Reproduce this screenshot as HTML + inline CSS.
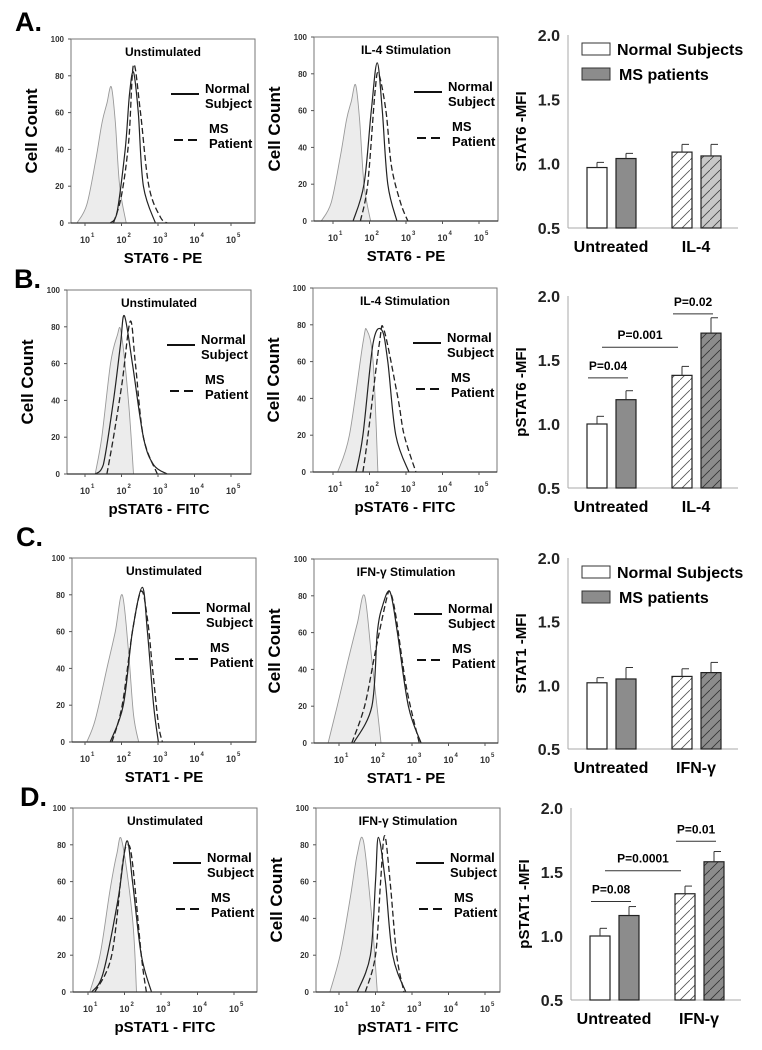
<!DOCTYPE html>
<html><head><meta charset="utf-8">
<style>
html,body{margin:0;padding:0;background:#fff;}
svg{display:block;font-family:"Liberation Sans",Arial,sans-serif;}
</style></head>
<body>
<svg id="fig" width="762" height="1050" viewBox="0 0 762 1050" xmlns="http://www.w3.org/2000/svg">
<defs>
<pattern id="hatchW" patternUnits="userSpaceOnUse" width="10" height="10">
<rect width="10" height="10" fill="#fff"/><path d="M-2,12 L12,-2" stroke="#555" stroke-width="0.8"/>
</pattern>
<pattern id="hatchG" patternUnits="userSpaceOnUse" width="10" height="10">
<rect width="10" height="10" fill="#8c8c8c"/><path d="M-2,12 L12,-2" stroke="#333" stroke-width="0.8"/>
</pattern>
<pattern id="hatchL" patternUnits="userSpaceOnUse" width="10" height="10">
<rect width="10" height="10" fill="#c8c8c8"/><path d="M-2,12 L12,-2" stroke="#444" stroke-width="0.8"/>
</pattern>
</defs>
</svg>
<script>
// ---- Histogram data (log10 intensity, cell count) ----
const histA1Grey=[[0.78,0],[1.05,10],[1.3,35],[1.47,55],[1.6,65],[1.72,74],[1.83,55],[1.95,20],[2.13,0]];
const histA1Normal=[[1.69,0],[1.87,5],[2.1,40],[2.22,70],[2.33,82],[2.46,60],[2.6,20],[2.93,0]];
const histA1MS=[[1.78,0],[2.0,15],[2.2,45],[2.33,86],[2.52,60],[2.75,20],[3.07,3],[3.25,0]];
const histA2Grey=[[0.68,0],[0.95,10],[1.2,35],[1.37,55],[1.5,65],[1.62,74],[1.73,55],[1.85,20],[2.03,0]];
const histA2Normal=[[1.55,0],[1.85,20],[2.05,60],[2.21,86],[2.35,60],[2.5,20],[2.75,0]];
const histA2MS=[[1.75,0],[1.95,20],[2.15,70],[2.25,80],[2.45,60],[2.6,30],[2.85,10],[3.05,0]];
const histB1Grey=[[1.28,0],[1.46,20],[1.7,60],[1.88,75],[1.99,77],[2.19,40],[2.33,0]];
const histB1Normal=[[1.28,0],[1.5,5],[1.78,40],[1.97,70],[2.08,86],[2.3,60],[2.6,20],[2.88,5],[3.25,0]];
const histB1MS=[[1.6,0],[1.78,20],[2.02,50],[2.24,83],[2.38,60],[2.6,20],[2.98,0]];
const histB2Grey=[[1.13,0],[1.45,20],[1.82,70],[1.93,77],[2.1,60],[2.23,0]];
const histB2Normal=[[1.63,0],[1.82,20],[2.1,70],[2.34,77],[2.5,60],[2.72,20],[3.08,0]];
const histB2MS=[[1.82,0],[1.96,20],[2.27,70],[2.4,77],[2.78,40],[2.95,20],[3.27,0]];
const histC1Grey=[[1.05,0],[1.28,12],[1.6,40],[1.83,60],[2.02,80],[2.19,50],[2.33,15],[2.47,0]];
const histC1Normal=[[1.69,0],[2.05,20],[2.3,60],[2.57,84],[2.71,60],[2.88,20],[3.01,0]];
const histC1MS=[[1.74,0],[2.02,20],[2.3,60],[2.54,82],[2.71,67],[2.85,40],[3.01,10],[3.12,0]];
const histC2Grey=[[0.7,0],[0.95,20],[1.25,45],[1.5,65],[1.7,80],[1.9,45],[2.15,0]];
const histC2Normal=[[1.4,0],[1.9,20],[2.05,60],[2.2,75],[2.4,82],[2.6,60],[2.9,20],[3.25,0]];
const histC2MS=[[1.35,0],[1.7,20],[2.0,50],[2.3,78],[2.4,82],[2.55,70],[2.85,30],[3.2,0]];
const histD1Grey=[[1.05,0],[1.33,20],[1.6,55],[1.79,75],[1.93,82],[2.22,40],[2.33,0]];
const histD1Normal=[[1.1,0],[1.41,10],[1.82,50],[2.06,82],[2.22,60],[2.46,20],[2.74,0]];
const histD1MS=[[1.19,0],[1.65,20],[1.95,70],[2.09,80],[2.22,70],[2.46,20],[2.6,0]];
const histD2Grey=[[0.75,0],[1.03,20],[1.3,50],[1.5,75],[1.67,82],[1.9,40],[2.05,0]];
const histD2Normal=[[1.5,0],[1.86,20],[2.0,60],[2.08,84],[2.27,60],[2.47,20],[2.83,0]];
const histD2MS=[[1.72,0],[2.0,20],[2.14,60],[2.25,85],[2.4,60],[2.58,20],[2.78,0]];
const yTickLabels=[0,20,40,60,80,100];
const xTickExps=[1,2,3,4,5];

// ---- Bar chart data ----
const barCategories=["Untreated","Stim"];
const barA_normal=[0.97,1.09]; const barA_ms=[1.04,1.06];
const barA_normalErr=[0.04,0.06]; const barA_msErr=[0.04,0.09];
const barB_normal=[1.00,1.38]; const barB_ms=[1.19,1.71];
const barB_normalErr=[0.06,0.07]; const barB_msErr=[0.07,0.12];
const barC_normal=[1.02,1.07]; const barC_ms=[1.05,1.10];
const barC_normalErr=[0.04,0.06]; const barC_msErr=[0.09,0.08];
const barD_normal=[1.00,1.33]; const barD_ms=[1.16,1.58];
const barD_normalErr=[0.06,0.06]; const barD_msErr=[0.07,0.08];
const barYTicks=["0.5","1.0","1.5","2.0"];
const pLabelsB=["P=0.04","P=0.001","P=0.02"]; const pLevelsB=[1.36,1.60,1.86];
const pLabelsD=["P=0.08","P=0.0001","P=0.01"]; const pLevelsD=[1.27,1.51,1.74];

const NS="http://www.w3.org/2000/svg";
const svg=document.getElementById('fig');
function mk(tag,attrs,parent,text){const e=document.createElementNS(NS,tag);for(const k in attrs)e.setAttribute(k,attrs[k]);if(text!==undefined)e.textContent=text;(parent||svg).appendChild(e);return e;}

function smoothPath(P){
  let d='M'+P[0][0].toFixed(1)+','+P[0][1].toFixed(1);
  for(let i=0;i<P.length-1;i++){
    const p0=P[Math.max(0,i-1)],p1=P[i],p2=P[i+1],p3=P[Math.min(P.length-1,i+2)];
    const c1x=p1[0]+(p2[0]-p0[0])/6,c1y=p1[1]+(p2[1]-p0[1])/6;
    const c2x=p2[0]-(p3[0]-p1[0])/6,c2y=p2[1]-(p3[1]-p1[1])/6;
    d+='C'+c1x.toFixed(1)+','+Math.min(c1y,Math.max(p1[1],p2[1])).toFixed(1)+' '+c2x.toFixed(1)+','+Math.min(c2y,Math.max(p1[1],p2[1])).toFixed(1)+' '+p2[0].toFixed(1)+','+p2[1].toFixed(1);
  }
  return d;
}

function histo(left,top,tickOff,title,xlabel,grey,normal,ms,showYTitle,name){
  const g=mk('g',{});
  
  
  const W=184,H=184,bottom=top+H,dec=36.5;
  const sx=v=>left+tickOff+(v-1)*dec;
  const sy=c=>bottom-c*H/100;
  const pts=arr=>arr.map(p=>[sx(p[0]),sy(p[1])]);
  const gp=mk('path',{d:smoothPath(pts(grey))+'Z',fill:'#ececec',stroke:'#999','stroke-width':0.9},g);
  
  
  const np=mk('path',{d:smoothPath(pts(normal)),fill:'none',stroke:'#222','stroke-width':1.2},g);
  
  
  const mp=mk('path',{d:smoothPath(pts(ms)),fill:'none',stroke:'#222','stroke-width':1.3,'stroke-dasharray':'6,3'},g);
  
  
  mk('rect',{x:left,y:top,width:W,height:H,fill:'none',stroke:'#777','stroke-width':1},g);
  mk('line',{x1:left,y1:bottom,x2:left+W,y2:bottom,stroke:'#333','stroke-width':1.2},g);
  yTickLabels.forEach(v=>{
    const t=mk('text',{x:left-7,y:sy(v)+3,'font-size':8,'font-weight':'bold','text-anchor':'end',fill:'#333'},g,String(v));
    
    
    mk('line',{x1:left-3,y1:sy(v),x2:left,y2:sy(v),stroke:'#555'},g);
  });
  xTickExps.forEach(e=>{
    const t=mk('text',{x:sx(e),y:bottom+20,'font-size':9,'font-weight':'bold','text-anchor':'middle',fill:'#333'},g,'10');
    
    
    mk('text',{x:sx(e)+6,y:bottom+14,'font-size':6,'font-weight':'bold',fill:'#333'},g,String(e));
    mk('line',{x1:sx(e),y1:bottom,x2:sx(e),y2:bottom+3,stroke:'#555'},g);
  });
  const tt=mk('text',{x:left+W/2,y:top+17,'font-size':12,'font-weight':'bold','text-anchor':'middle'},g,title);
  
  
  const xl=mk('text',{x:left+W/2,y:bottom+40,'font-size':15,'font-weight':'bold','text-anchor':'middle'},g,xlabel);
  
  
  if(showYTitle){
    const yt=mk('text',{x:0,y:0,'font-size':17,'font-weight':'bold','text-anchor':'middle',transform:`translate(${left-34},${top+H/2}) rotate(-90)`},g,'Cell Count');
    
    
  }
  const lg=mk('g',{},g);
  
  
  mk('line',{x1:left+100,y1:top+55,x2:left+128,y2:top+55,stroke:'#111','stroke-width':2},lg);
  mk('text',{x:left+134,y:top+54,'font-size':13,'font-weight':'bold'},lg,'Normal');
  mk('text',{x:left+134,y:top+69,'font-size':13,'font-weight':'bold'},lg,'Subject');
  mk('line',{x1:left+103,y1:top+101,x2:left+128,y2:top+101,stroke:'#111','stroke-width':2,'stroke-dasharray':'9,5'},lg);
  mk('text',{x:left+138,y:top+94,'font-size':13,'font-weight':'bold'},lg,'MS');
  mk('text',{x:left+138,y:top+109,'font-size':13,'font-weight':'bold'},lg,'Patient');
}

function bars(axisX,top,bottom,yTitle,stimLabel,normal,ms,nErr,mErr,stimMsFill,legend,pLabels,pLevels,name){
  const g=mk('g',{});
  
  
  const sy=v=>bottom-(v-0.5)*(bottom-top)/1.5;
  mk('line',{x1:axisX,y1:top,x2:axisX,y2:bottom,stroke:'#aaa','stroke-width':1},g);
  mk('line',{x1:axisX,y1:bottom,x2:axisX+170,y2:bottom,stroke:'#aaa','stroke-width':1},g);
  barYTicks.forEach(s=>{
    const t=mk('text',{x:axisX-8,y:sy(parseFloat(s))+6,'font-size':16,'font-weight':'bold','text-anchor':'end',fill:'#222'},g,s);
    
    
  });
  const yt=mk('text',{x:0,y:0,'font-size':15,'font-weight':'bold','text-anchor':'middle',transform:`translate(${axisX-42},${(top+bottom)/2}) rotate(-90)`},g,yTitle);
  
  
  const cats=[barCategories[0],stimLabel];
  const groupX=[axisX+19,axisX+104];
  cats.forEach((c,i)=>{
    const t=mk('text',{x:groupX[i]+24,y:bottom+24,'font-size':16,'font-weight':'bold','text-anchor':'middle'},g,c);
    
    
    const fills=[i?'url(#hatchW)':'#fff', i?stimMsFill:'#8c8c8c'];
    const vals=[normal[i],ms[i]], errs=[nErr[i],mErr[i]];
    [0,1].forEach(j=>{
      const x=groupX[i]+j*29, v=vals[j];
      const r=mk('rect',{x:x,y:sy(v),width:20,height:bottom-sy(v),fill:fills[j],stroke:'#222','stroke-width':1.2},g);
      
      
      const ey=sy(v+errs[j]);
      mk('line',{x1:x+10,y1:sy(v),x2:x+10,y2:ey,stroke:'#333'},g);
      mk('line',{x1:x+10,y1:ey,x2:x+17,y2:ey,stroke:'#333'},g);
    });
  });
  if(legend){
    const lg=mk('g',{},g);
    
    
    mk('rect',{x:axisX+14,y:top+8,width:28,height:12,fill:'#fff',stroke:'#333'},lg);
    mk('text',{x:axisX+49,y:top+20,'font-size':16,'font-weight':'bold'},lg,'Normal Subjects');
    mk('rect',{x:axisX+14,y:top+33,width:28,height:12,fill:'#8c8c8c',stroke:'#333'},lg);
    mk('text',{x:axisX+51,y:top+45,'font-size':16,'font-weight':'bold'},lg,'MS patients');
  }
  if(pLabels){
    const spans=[[groupX[0]+1,groupX[0]+41],[groupX[0]+15,groupX[1]+6],[groupX[1]+1,groupX[1]+41]];
    pLabels.forEach((p,k)=>{
      const y=sy(pLevels[k]);
      mk('line',{x1:spans[k][0],y1:y,x2:spans[k][1],y2:y,stroke:'#333','stroke-width':1},g);
      const t=mk('text',{x:(spans[k][0]+spans[k][1])/2,y:y-8,'font-size':12,'font-weight':'bold','text-anchor':'middle'},g,p);
      
      
    });
  }
}

function letter(x,y,s){
  const t=mk('text',{x:x,y:y,'font-size':27,'font-weight':'bold'},svg,s);
  
  
}

letter(15,31,'A.'); letter(14,288,'B.'); letter(16,546,'C.'); letter(20,806,'D.');
histo(71,39,14,'Unstimulated','STAT6 - PE',histA1Grey,histA1Normal,histA1MS,true,'histogram-a-unstimulated');
histo(314,37,19,'IL-4 Stimulation','STAT6 - PE',histA2Grey,histA2Normal,histA2MS,true,'histogram-a-il4');
histo(67,290,18,'Unstimulated','pSTAT6 - FITC',histB1Grey,histB1Normal,histB1MS,true,'histogram-b-unstimulated');
histo(313,288,20,'IL-4 Stimulation','pSTAT6 - FITC',histB2Grey,histB2Normal,histB2MS,true,'histogram-b-il4');
histo(72,558,13,'Unstimulated','STAT1 - PE',histC1Grey,histC1Normal,histC1MS,false,'histogram-c-unstimulated');
histo(314,559,25,'IFN-γ Stimulation','STAT1 - PE',histC2Grey,histC2Normal,histC2MS,true,'histogram-c-ifng');
histo(73,808,15,'Unstimulated','pSTAT1 - FITC',histD1Grey,histD1Normal,histD1MS,false,'histogram-d-unstimulated');
histo(316,808,23,'IFN-γ Stimulation','pSTAT1 - FITC',histD2Grey,histD2Normal,histD2MS,true,'histogram-d-ifng');

bars(568,35,228,'STAT6 -MFI','IL-4',barA_normal,barA_ms,barA_normalErr,barA_msErr,'url(#hatchL)',true,null,null,'bar-chart-a');
bars(568,296,488,'pSTAT6 -MFI','IL-4',barB_normal,barB_ms,barB_normalErr,barB_msErr,'url(#hatchG)',false,pLabelsB,pLevelsB,'bar-chart-b');
bars(568,558,749,'STAT1 -MFI','IFN-γ',barC_normal,barC_ms,barC_normalErr,barC_msErr,'url(#hatchG)',true,null,null,'bar-chart-c');
bars(571,808,1000,'pSTAT1 -MFI','IFN-γ',barD_normal,barD_ms,barD_normalErr,barD_msErr,'url(#hatchG)',false,pLabelsD,pLevelsD,'bar-chart-d');
</script>
</body></html>
